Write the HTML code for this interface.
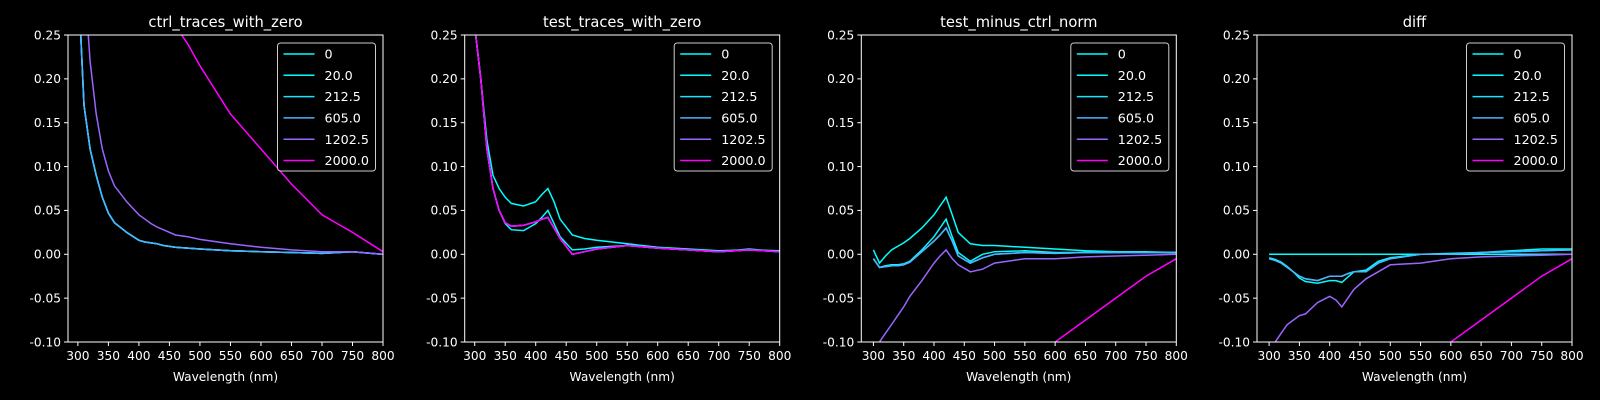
<!DOCTYPE html>
<html><head><meta charset="utf-8"><style>
html,body{margin:0;padding:0;background:#000;width:1600px;height:400px;overflow:hidden;}
svg{display:block;font-family:"DejaVu Sans","Liberation Sans",sans-serif;}
</style></head><body>
<svg id="fig" width="1600" height="400" viewBox="0 0 1600 400"></svg>
<script>
const labels = ["0","20.0","212.5","605.0","1202.5","2000.0"];
const colors = ["#00ffff","#05faff","#1be4ff","#4db2ff","#9966ff","#ff00ff"];
const titles = ["ctrl_traces_with_zero","test_traces_with_zero","test_minus_ctrl_norm","diff"];
const yTicks = [-0.10,-0.05,0.00,0.05,0.10,0.15,0.20,0.25];
const xTicks = [300,350,400,450,500,550,600,650,700,750,800];
const wl = [300,310,320,330,340,350,360,380,400,410,420,430,440,460,480,500,550,600,650,700,750,800];
// panel 1
const p1base = [0.32,0.17,0.12,0.09,0.065,0.047,0.036,0.025,0.016,0.014,0.013,0.012,0.010,0.008,0.007,0.006,0.004,0.003,0.002,0.001,0.003,0.0];
const p1s1202 = [0.45,0.32,0.22,0.16,0.12,0.095,0.078,0.06,0.045,0.04,0.035,0.031,0.028,0.022,0.020,0.017,0.012,0.008,0.005,0.003,0.003,0.0];
const p1s2000 = [0.9,0.8,0.7,0.6,0.5,0.45,0.42,0.38,0.34,0.32,0.30,0.29,0.28,0.26,0.24,0.215,0.16,0.12,0.08,0.045,0.025,0.003];
// panel 2
const p2s0 = [0.26,0.2,0.13,0.09,0.075,0.065,0.058,0.055,0.06,0.068,0.075,0.06,0.04,0.022,0.018,0.016,0.012,0.008,0.006,0.004,0.005,0.004];
const p2s20 = [0.26,0.2,0.12,0.075,0.05,0.035,0.028,0.027,0.035,0.042,0.05,0.035,0.02,0.005,0.006,0.008,0.01,0.007,0.005,0.003,0.006,0.003];
const p2rest = [0.26,0.2,0.12,0.075,0.05,0.036,0.032,0.033,0.037,0.04,0.042,0.03,0.018,0.0,0.003,0.006,0.01,0.007,0.005,0.003,0.005,0.003];
// panel 3
const p3s0 = [0.005,-0.01,-0.002,0.005,0.009,0.013,0.018,0.03,0.045,0.055,0.065,0.045,0.025,0.012,0.01,0.01,0.008,0.006,0.004,0.003,0.003,0.002];
const p3s20 = [-0.005,-0.015,-0.013,-0.012,-0.012,-0.011,-0.008,0.005,0.02,0.03,0.04,0.02,0.002,-0.008,0.0,0.003,0.004,0.002,0.002,0.002,0.002,0.002];
const p3rest = [-0.005,-0.015,-0.014,-0.013,-0.013,-0.012,-0.009,0.003,0.015,0.022,0.03,0.015,-0.002,-0.01,-0.004,0.0,0.002,0.001,0.002,0.002,0.002,0.002];
const p3s1202 = [-0.12,-0.1,-0.09,-0.08,-0.07,-0.06,-0.048,-0.03,-0.01,-0.002,0.005,-0.005,-0.012,-0.02,-0.017,-0.01,-0.005,-0.005,-0.003,-0.002,-0.001,0.0];
const p3s2000 = [-0.5,-0.48,-0.46,-0.44,-0.42,-0.4,-0.38,-0.34,-0.3,-0.28,-0.26,-0.25,-0.24,-0.22,-0.2,-0.18,-0.14,-0.1,-0.075,-0.05,-0.025,-0.005];
// panel 4
const p4s0 = [0,0,0,0,0,0,0,0,0,0,0,0,0,0,0,0,0,0,0,0,0,0];
const p4rest = [-0.005,-0.007,-0.01,-0.015,-0.02,-0.025,-0.028,-0.03,-0.025,-0.025,-0.025,-0.022,-0.02,-0.02,-0.01,-0.005,0.0,0.0,0.002,0.003,0.004,0.005];
const p4s20 = [-0.004,-0.006,-0.009,-0.014,-0.02,-0.027,-0.031,-0.033,-0.03,-0.03,-0.032,-0.026,-0.02,-0.018,-0.008,-0.004,0.0,0.001,0.002,0.004,0.006,0.006];
const p4s1202 = [-0.13,-0.1,-0.09,-0.08,-0.075,-0.07,-0.068,-0.055,-0.048,-0.052,-0.06,-0.05,-0.04,-0.028,-0.02,-0.012,-0.01,-0.005,-0.003,-0.002,-0.001,0.0];
const p4s2000 = p3s2000;

const panelSeries = [
  [p1base,p1base,p1base,p1base,p1s1202,p1s2000],
  [p2s0,p2s20,p2rest,p2rest,p2rest,p2rest],
  [p3s0,p3s20,p3rest,p3rest,p3s1202,p3s2000],
  [p4s0,p4s20,p4rest,p4rest,p4s1202,p4s2000]
];
const axL = [68,464.7,861.3,1257], axW = 315, axT = 35, axH = 307;
const xMin = [283.8,283.6,280,280], xMax = 800, yMin = -0.1, yMax = 0.25;
const NS = "http://www.w3.org/2000/svg";
const svg = document.getElementById('fig');
function el(tag, attrs, parent){const e=document.createElementNS(NS,tag);for(const k in attrs)e.setAttribute(k,attrs[k]);(parent||svg).appendChild(e);return e;}
for(let p=0;p<4;p++){
  const L=axL[p];
  const xs=v=>L+(v-xMin[p])/(xMax-xMin[p])*axW;
  const ys=v=>axT+(yMax-v)/(yMax-yMin)*axH;
  const g=el('g',{});
  
  
  const cp=el('clipPath',{id:'c'+p},g); el('rect',{x:L,y:axT,width:axW,height:axH},cp);
  const t=el('text',{x:L+axW/2,y:27,fill:'#fff','font-size':14.7,'text-anchor':'middle'},g); t.textContent=titles[p];
   
  const sg=el('g',{'clip-path':'url(#c'+p+')'},g);
  panelSeries[p].forEach((s,i)=>{
    const d=s.map((v,j)=>(j?'L':'M')+xs(wl[j]).toFixed(1)+' '+ys(v).toFixed(1)).join(' ');
    const path=el('path',{d:d,fill:'none',stroke:colors[i],'stroke-width':1.5},sg);
    
    
  });
  el('rect',{x:L,y:axT,width:axW,height:axH,fill:'none',stroke:'#fff','stroke-width':1},g);
  yTicks.forEach(v=>{const y=ys(v);el('line',{x1:L-4,x2:L,y1:y,y2:y,stroke:'#fff'},g);
    const tt=el('text',{x:L-7,y:y+4.3,fill:'#fff','font-size':12.2,'text-anchor':'end'},g);tt.textContent=v.toFixed(2);
    });
  xTicks.forEach(v=>{const x=xs(v);el('line',{x1:x,x2:x,y1:axT+axH,y2:axT+axH+4,stroke:'#fff'},g);
    const tt=el('text',{x:x,y:axT+axH+18,fill:'#fff','font-size':12.2,'text-anchor':'middle'},g);tt.textContent=v;
    });
  const xl=el('text',{x:L+axW/2,y:381,fill:'#fff','font-size':12.2,'text-anchor':'middle'},g);xl.textContent='Wavelength (nm)';
  
  const lg=el('g',{},g);
  
  const lx=L+axW-105.5;
  el('rect',{x:lx,y:43,width:98,height:128,rx:3,fill:'#000',stroke:'#ccc','stroke-width':1,'fill-opacity':0.8},lg);
  labels.forEach((lab,i)=>{const y=54+i*21.3;
    el('line',{x1:lx+6,x2:lx+37,y1:y,y2:y,stroke:colors[i],'stroke-width':1.5},lg);
    const tt=el('text',{x:lx+47,y:y+4.6,fill:'#fff','font-size':12.7},lg);tt.textContent=lab;
    });
}
</script>
</body></html>
